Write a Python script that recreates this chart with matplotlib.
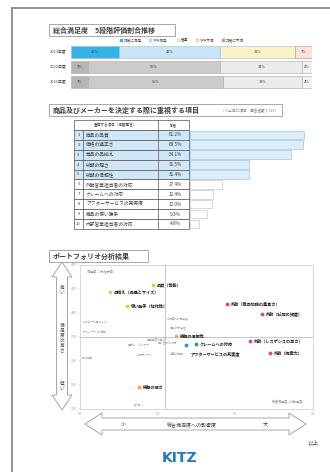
import matplotlib
matplotlib.use("Agg")
import matplotlib.pyplot as plt
from matplotlib.patches import Rectangle, Polygon
from matplotlib.lines import Line2D

plt.rcParams['font.family'] = ['Noto Sans CJK JP', 'DejaVu Sans']

# ---------------- data ----------------
# overall satisfaction, 5-level distribution by year (%)
years = ["2023年度", "2022年度", "2021年度"]
levels = ["非常に満足", "やや満足", "普通", "やや不満", "非常に不満"]
share_2023 = [20, 42, 31, 7, 0]
share_2022 = [7, 55, 34, 4, 0]
share_2021 = [7, 56, 33, 4, 0]

# items valued when choosing a product / maker (top 10, %)
rank_items = ["商品の品質", "価格の適正さ", "商品の品揃え", "納期の短さ", "納期の信頼性",
              "外勤営業担当者の対応", "クレームへの対応", "アフターサービスの充実度",
              "商品の使い勝手", "内部営業担当者の対応"]
rank_values = [61.2, 60.5, 54.1, 31.5, 31.4, 17.4, 12.4, 12.0, 9.3, 4.8]

# portfolio analysis: influence on overall satisfaction (x) vs satisfaction (y)
pf_labels = ["品質（性能）", "品揃え（品種とサイズ）", "使い勝手（操作性）",
             "外勤（商品知識の豊富さ）", "外勤（訪問の頻度）", "外勤（レスポンスの早さ）", "外勤（提案力）",
             "納期の信頼性", "納期の短さ",
             "アフターサービスの充実度", "クレームへの対応"]
pf_x = [0.094, 0.039, 0.061, 0.189, 0.234, 0.219, 0.245, 0.124, 0.076, 0.136, 0.149]
pf_y = [4.29, 4.22, 4.07, 4.09, 3.99, 3.71, 3.58, 3.76, 3.23, 3.67, 3.68]
pf_group = ["品質", "品質", "品質", "外勤", "外勤", "外勤", "外勤", "納期", "納期", "対応", "対応"]

minor_labels = ["カタログの見やすさ", "ホームページの情報", "技術資料の充実度", "価格の安定性",
                "見積回答の早さ", "問い合わせ対応", "展示会・セミナー", "技術サポート",
                "在庫の確保", "物流品質", "その他"]
minor_x = [0.004, 0.002, 0.112, 0.116, 0.086, 0.100, 0.062, 0.073, 0.116, 0.002, 0.068]
minor_y = [3.90, 3.80, 3.93, 3.84, 3.73, 3.69, 3.66, 3.57, 3.57, 3.54, 3.04]
mean_x, mean_y = 0.11, 3.75

# ---------------- layout helpers ----------------
W, H = 330, 472
fig = plt.figure(figsize=(W / 100, H / 100), dpi=100)
fig.patch.set_facecolor("white")


def box(x0, y0, x1, y1):
    return [x0 / W, 1 - y1 / H, (x1 - x0) / W, (y1 - y0) / H]


page = fig.add_axes([0, 0, 1, 1], zorder=0)
page.set_xlim(0, W)
page.set_ylim(H, 0)
page.axis("off")

# page frame
page.add_line(Line2D([12, 12], [8, H], color="#8a8a8a", lw=1.3))
page.add_line(Line2D([12, W], [8, 8], color="#8a8a8a", lw=1.3))

TXT = "#404040"


def title_box(x0, y0, x1, y1, text, note=None):
    page.add_patch(Rectangle((x0, y0), x1 - x0, y1 - y0, fc="white", ec="#9a9a9a", lw=0.6))
    page.text(x0 + 4, (y0 + y1) / 2, text, fontsize=5, color=TXT, va="center", ha="left",
              fontweight="bold")
    if note:
        page.text(x1 - 4, (y0 + y1) / 2 + 0.5, note, fontsize=2.6, color="#777777",
                  va="center", ha="right")


# ---------------- section 1: stacked bars ----------------
title_box(49, 24, 175, 36, "総合満足度　5段階評価割合推移")

cur_colors = ["#37b2e6", "#c8e5f7", "#f8f4c6", "#fbe2dc", "#e98a8a"]
old_colors = ["#b5b5b5", "#cbcbcb", "#ebebeb", "#f3f3f3", "#f7f7f7"]

# legend row
lx = [120, 149, 177, 196, 222]
for x, lab, c in zip(lx, levels, cur_colors):
    page.add_patch(Rectangle((x, 39.3), 2.6, 2.6, fc=c, ec="#999999", lw=0.2))
    page.text(x + 3.5, 40.6, lab, fontsize=2.6, color=TXT, va="center", ha="left")

ax1 = fig.add_axes(box(71, 45, 312, 89))
rows = [share_2023, share_2022, share_2021]
for i, shares in enumerate(rows):
    left = 0
    cols = cur_colors if i == 0 else old_colors
    edge = "#9fb9c9" if i == 0 else "#a8a8a8"
    for j, v in enumerate(shares):
        if v <= 0:
            continue
        ec = "#d98080" if (i == 0 and j == 3) else edge
        ax1.barh(i, v, left=left, height=0.8, color=cols[j], edgecolor=ec, linewidth=0.4)
        ax1.text(left + v / 2, i, f"{v}%", fontsize=2.8, color=TXT, ha="center", va="center")
        left += v
ax1.set_xlim(0, 100)
ax1.set_ylim(2.5, -0.5)
ax1.axis("off")
for i, yr in enumerate(years):
    ax1.text(-2, i, yr, fontsize=2.8, color=TXT, ha="right", va="center")

# ---------------- section 2: table + bars ----------------
title_box(49, 104, 282, 116, "商品及びメーカーを決定する際に重視する項目",
          note="（※上位10項目・回答者数 1,313）")

tx0, tx1, tx2, tx3 = 74, 83, 158, 189
ty0, row_h = 120, 9.9
n = len(rank_items)
# header
page.add_patch(Rectangle((tx0, ty0), tx3 - tx0, row_h, fc="white", ec="#555555", lw=0.5))
page.add_line(Line2D([tx2, tx2], [ty0, ty0 + row_h], color="#555555", lw=0.5))
page.text((tx0 + tx2) / 2, ty0 + row_h / 2, "重視する項目（複数回答）", fontsize=2.6, color=TXT,
          ha="center", va="center")
page.text((tx2 + tx3) / 2, ty0 + row_h / 2, "割合", fontsize=2.6, color=TXT,
          ha="center", va="center")
for i, (item, val) in enumerate(zip(rank_items, rank_values)):
    y = ty0 + row_h * (i + 1)
    fc = "#cfe7f6" if i < 5 else "white"
    page.add_patch(Rectangle((tx0, y), tx3 - tx0, row_h, fc=fc, ec="#555555", lw=0.5))
    page.add_line(Line2D([tx1, tx1], [y, y + row_h], color="#555555", lw=0.5))
    page.add_line(Line2D([tx2, tx2], [y, y + row_h], color="#555555", lw=0.5))
    page.text((tx0 + tx1) / 2, y + row_h / 2, str(i + 1), fontsize=3, color=TXT,
              ha="center", va="center")
    page.text(tx1 + 3, y + row_h / 2, item, fontsize=3.4, color=TXT, ha="left", va="center")
    page.text((tx2 + tx3) / 2 + 2, y + row_h / 2, f"{val}%", fontsize=3.4, color=TXT,
              ha="center", va="center")

ax2 = fig.add_axes(box(190, ty0 + row_h, 316, ty0 + row_h * (n + 1)))
for i, v in enumerate(rank_values):
    if i < 5:
        ax2.barh(i, v, height=0.86, color="#dcedf9", edgecolor="#9ccbe8", linewidth=0.5)
    else:
        ax2.barh(i, v, height=0.86, color="white", edgecolor="#c8c8c8", linewidth=0.5)
ax2.set_xlim(0, 67.6)
ax2.set_ylim(n - 0.5, -0.5)
ax2.axis("off")

# ---------------- section 3: portfolio ----------------
title_box(49, 250, 148, 262, "ポートフォリオ分析結果")

ax3 = fig.add_axes(box(80, 265, 313, 409))
ax3.set_xlim(0, 0.3)
ax3.set_ylim(3.0, 4.5)
for s in ax3.spines.values():
    s.set_color("#c8c8c8")
    s.set_linewidth(0.5)
ax3.set_xticks([0, 0.1, 0.2, 0.3])
ax3.set_yticks([3.0, 3.25, 3.5, 3.75, 4.0, 4.25, 4.5])
ax3.tick_params(labelsize=2.2, colors="#9a9a9a", length=1, width=0.3, pad=1)
ax3.axvline(mean_x, color="#b0b0b0", lw=0.5)
ax3.axhline(mean_y, color="#b0b0b0", lw=0.5)

group_colors = {"品質": "#c6d84c", "外勤": "#e2457a", "納期": "#f2a24e", "対応": "#2f8fd2"}
for x, y, lab, g in zip(pf_x, pf_y, pf_labels, pf_group):
    ax3.scatter(x, y, s=9, color=group_colors[g], edgecolors="white", linewidths=0.3, zorder=4)
for x, y, lab, g in zip(pf_x, pf_y, pf_labels, pf_group):
    if lab == "アフターサービスの充実度":
        ax3.text(x + 0.006, y - 0.09, lab, fontsize=3, color="#222222", fontweight="bold",
                 ha="left", va="center", zorder=5)
    else:
        ax3.text(x + 0.005, y, lab, fontsize=3, color="#222222", fontweight="bold",
                 ha="left", va="center", zorder=5)
for x, y, lab in zip(minor_x, minor_y, minor_labels):
    ax3.text(x, y, lab, fontsize=2, color="#9a9a9a", ha="left", va="center")
ax3.text(0.02, 0.955, "（満足度：5段階評価）", transform=ax3.transAxes, fontsize=2.2,
         color="#8a8a8a", ha="left", va="center")
ax3.text(0.97, 0.05, "（総合満足度への影響度）", transform=ax3.transAxes, fontsize=2.2,
         color="#8a8a8a", ha="right", va="center")

# vertical double arrow
cx, top, bot, hw, sw, hl = 62, 262, 410, 10, 5.5, 15
page.add_patch(Polygon([(cx, top), (cx + hw, top + hl), (cx + sw, top + hl), (cx + sw, bot - hl),
                        (cx + hw, bot - hl), (cx, bot), (cx - hw, bot - hl), (cx - sw, bot - hl),
                        (cx - sw, top + hl), (cx - hw, top + hl)],
                       closed=True, fc="white", ec="#9a9a9a", lw=0.6))
page.text(cx, 290, "高\nい", fontsize=3.4, color=TXT, ha="center", va="center", linespacing=1.0)
page.text(cx, 338, "満\n足\n度\nの\n高\nさ", fontsize=3.4, color=TXT, ha="center", va="center",
          linespacing=1.0)
page.text(cx, 386, "低\nい", fontsize=3.4, color=TXT, ha="center", va="center", linespacing=1.0)

# horizontal double arrow
cy, lft, rgt, hh, sh, hlx = 424, 85, 306, 11, 6, 17
page.add_patch(Polygon([(lft, cy), (lft + hlx, cy - hh), (lft + hlx, cy - sh), (rgt - hlx, cy - sh),
                        (rgt - hlx, cy - hh), (rgt, cy), (rgt - hlx, cy + hh), (rgt - hlx, cy + sh),
                        (lft + hlx, cy + sh), (lft + hlx, cy + hh)],
                       closed=True, fc="white", ec="#9a9a9a", lw=0.6))
page.text(123, cy, "小", fontsize=3.6, color=TXT, ha="center", va="center")
page.text(192, cy, "総合満足度への影響度", fontsize=3.6, color=TXT, ha="center", va="center")
page.text(265, cy, "大", fontsize=3.6, color=TXT, ha="center", va="center")

page.text(313, 442, "以上", fontsize=4, color=TXT, ha="center", va="center")

# logo
page.text(180, 458, "KITZ", fontsize=10, color="#1c7db8", ha="center", va="center",
          fontweight="heavy", family=["DejaVu Sans"])

fig.savefig("out.png", dpi=100, facecolor="white")
